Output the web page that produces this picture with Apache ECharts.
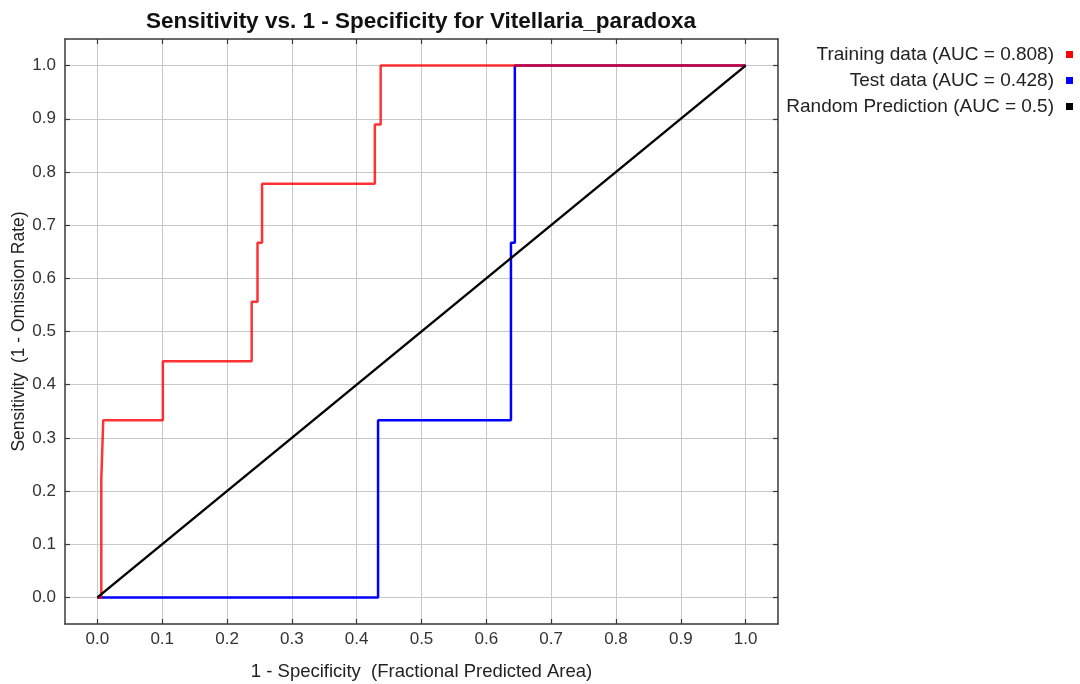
<!DOCTYPE html>
<html>
<head>
<meta charset="utf-8">
<title>ROC – Vitellaria_paradoxa</title>
<script src="https://cdn.jsdelivr.net/npm/echarts@6/dist/echarts.min.js"></script>
<style>
  html, body { margin: 0; padding: 0; background: #ffffff; }
  #chart { width: 1080px; height: 684px; }
</style>
</head>
<body>
<div id="chart"></div>
<script>
// ROC curve points: fractional predicted area (1 - specificity) vs sensitivity
const trainFpr = [0.000, 0.006, 0.009, 0.101, 0.238, 0.247, 0.254, 0.428, 0.437, 1.000];
const trainTpr = [0.000, 0.222, 0.333, 0.444, 0.556, 0.667, 0.778, 0.889, 1.000, 1.000];

const testFpr = [0.000, 0.433, 0.638, 0.644, 1.000];
const testTpr = [0.000, 0.333, 0.667, 1.000, 1.000];

const randomFpr = [0.0, 1.0];
const randomTpr = [0.0, 1.0];

const tickValues = [0.0, 0.1, 0.2, 0.3, 0.4, 0.5, 0.6, 0.7, 0.8, 0.9, 1.0];

const seriesNames = [
  'Training data (AUC = 0.808)',
  'Test data (AUC = 0.428)',
  'Random Prediction (AUC = 0.5)'
];
const seriesColors = ['#ff0000', '#0000ff', '#000000'];

const titleText = 'Sensitivity vs. 1 - Specificity for Vitellaria_paradoxa';
const xName = '1 - Specificity  (Fractional Predicted Area)';
const yName = 'Sensitivity  (1 - Omission Rate)';

const zip = (xs, ys) => xs.map((x, i) => [x, ys[i]]);

const chart = echarts.init(document.getElementById('chart'), null, { renderer: 'canvas' });

const fontFamily = '"Liberation Sans", Arial, sans-serif';

function makeAxis(opts) {
  return Object.assign({
    type: 'value',
    min: -0.05,
    max: 1.05,
    axisLine: { show: true, onZero: false, lineStyle: { color: '#383838', width: 1.5 } },
    axisTick: {
      show: true, inside: true, length: 5, customValues: tickValues,
      lineStyle: { color: '#383838', width: 1.2 }
    },
    splitLine: { show: false },
    axisLabel: { show: false }
  }, opts);
}

const option = {
  backgroundColor: '#ffffff',
  animation: false,
  grid: {
    left: 65, top: 39, right: 302, bottom: 60,
    containLabel: false,
    outerBoundsMode: 'none'
  },
  graphic: [{
    type: 'text',
    x: 421,
    y: 22,
    style: {
      text: titleText,
      fontFamily: fontFamily,
      fontWeight: 'bold',
      fontSize: 22.5,
      fill: '#111111',
      textAlign: 'center',
      textVerticalAlign: 'middle'
    }
  }],
  legend: seriesNames.map((name, i) => ({
    data: [{ name: name, icon: 'rect' }],
    right: 7,
    top: 45 + i * 26,
    orient: 'vertical',
    align: 'right',
    padding: 0,
    itemWidth: 7,
    itemHeight: 7,
    selectedMode: false,
    textStyle: {
      fontFamily: fontFamily,
      fontSize: 19,
      color: '#222222',
      padding: [0, 7, 0, 0]
    }
  })),
  xAxis: [
    makeAxis({
      position: 'bottom',
      name: xName,
      nameLocation: 'middle',
      nameGap: 38,
      nameMoveOverlap: false,
      nameTextStyle: { fontFamily: fontFamily, fontSize: 18.5, color: '#222222' },
      splitLine: {
        show: true,
        lineStyle: { color: '#c8c8c8', width: 1 }
      },
      axisLabel: {
        show: true, customValues: tickValues, margin: 7,
        fontFamily: fontFamily, fontSize: 17, color: '#333333',
        formatter: v => v.toFixed(1)
      }
    }),
    makeAxis({ position: 'top' })
  ],
  yAxis: [
    makeAxis({
      position: 'left',
      name: yName,
      nameLocation: 'middle',
      nameGap: 36.5,
      nameMoveOverlap: false,
      nameTextStyle: { fontFamily: fontFamily, fontSize: 17.5, color: '#222222' },
      splitLine: {
        show: true,
        lineStyle: { color: '#c8c8c8', width: 1 }
      },
      axisLabel: {
        show: true, customValues: tickValues, margin: 9,
        fontFamily: fontFamily, fontSize: 17, color: '#333333',
        formatter: v => v.toFixed(1)
      }
    }),
    makeAxis({ position: 'right' })
  ],
  series: [
    {
      name: seriesNames[1],
      type: 'line',
      step: 'end',
      data: zip(testFpr, testTpr),
      showSymbol: false,
      color: seriesColors[1],
      lineStyle: { color: seriesColors[1], width: 2.5 },
      z: 2
    },
    {
      name: seriesNames[0],
      type: 'line',
      step: 'end',
      data: zip(trainFpr, trainTpr),
      showSymbol: false,
      color: seriesColors[0],
      lineStyle: { color: seriesColors[0], width: 2.5, opacity: 0.8 },
      z: 3
    },
    {
      name: seriesNames[2],
      type: 'line',
      data: zip(randomFpr, randomTpr),
      showSymbol: false,
      color: seriesColors[2],
      lineStyle: { color: seriesColors[2], width: 2.4 },
      z: 4
    }
  ]
};

chart.setOption(option);
</script>
</body>
</html>
